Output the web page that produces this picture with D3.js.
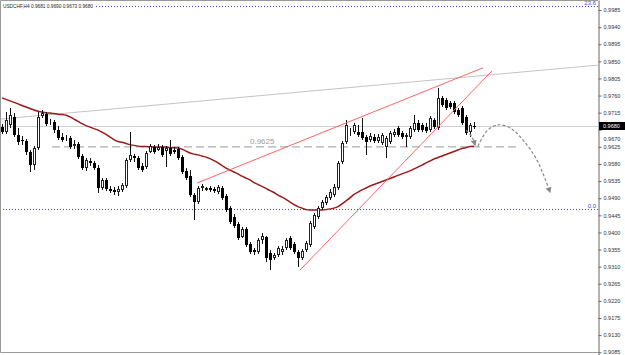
<!DOCTYPE html>
<html>
<head>
<meta charset="utf-8">
<script src="https://cdnjs.cloudflare.com/ajax/libs/d3/7.8.5/d3.min.js"></script>
<style>
  body { margin: 0; background: #fff; }
  svg { display: block; font-family: "Liberation Sans", Arial, sans-serif; }
</style>
</head>
<body>
<div class="chart"></div>
<script>
// USDCHF,H4 candles, prices in pips (price x 10000)
var openPips = [
  9677,9664,9683,9704,9656,9643,9640,9611,9577,9622,
  9706,9711,9688,9690,9669,9651,9646,9648,9627,9633,
  9601,9569,9588,9583,9569,9517,9538,9514,9511,9506,
  9511,9522,9590,9601,9596,9575,9572,9611,9625,9617,
  9625,9614,9622,9617,9619,9598,9561,9548,9498,9480,
  9517,9511,9517,9514,9506,9517,9496,9464,9440,9422,
  9388,9409,9369,9354,9348,9380,9388,9346,9333,9340,
  9348,9359,9385,9369,9348,9333,9354,9367,9414,9440,
  9464,9477,9490,9498,9517,9585,9638,9661,9664,9664,
  9664,9651,9643,9651,9640,9635,9625,9638,9656,9675,
  9661,9651,9651,9669,9688,9683,9677,9669,9696,9675,
  9754,9748,9740,9740,9722,9727,9704,9664,9681
];
var highPips = [
  9685,9717,9727,9714,9675,9654,9646,9617,9627,9717,
  9722,9717,9698,9696,9680,9661,9656,9654,9643,9638,
  9606,9596,9596,9588,9577,9543,9543,9522,9519,9522,
  9530,9596,9664,9606,9601,9583,9614,9633,9630,9633,
  9630,9627,9643,9625,9625,9604,9569,9564,9504,9522,
  9527,9519,9522,9519,9525,9522,9501,9469,9448,9427,
  9414,9414,9375,9359,9385,9398,9390,9354,9346,9364,
  9364,9385,9390,9375,9354,9356,9377,9430,9451,9469,
  9485,9498,9514,9527,9588,9640,9696,9675,9688,9683,
  9701,9656,9661,9659,9659,9661,9654,9667,9672,9680,
  9667,9661,9680,9709,9696,9688,9688,9706,9701,9780,
  9759,9754,9746,9746,9727,9733,9709,9688,9690
];
var lowPips = [
  9659,9659,9675,9651,9630,9630,9604,9559,9564,9617,
  9701,9680,9683,9661,9643,9638,9640,9619,9619,9593,
  9564,9561,9575,9564,9504,9511,9509,9504,9498,9496,
  9506,9517,9585,9585,9564,9559,9567,9609,9606,9614,
  9598,9572,9601,9606,9590,9554,9538,9493,9433,9475,
  9509,9509,9506,9504,9501,9485,9454,9422,9411,9380,
  9385,9361,9343,9340,9343,9369,9322,9301,9327,9335,
  9340,9354,9354,9343,9309,9327,9348,9361,9409,9435,
  9459,9472,9485,9493,9511,9580,9633,9654,9659,9651,
  9643,9604,9638,9635,9635,9630,9596,9633,9651,9651,
  9646,9625,9646,9664,9664,9664,9661,9664,9672,9669,
  9730,9722,9725,9711,9704,9683,9656,9651,9673
];
var closePips = [
  9664,9696,9709,9656,9638,9640,9611,9577,9622,9704,
  9714,9685,9690,9669,9648,9643,9648,9625,9633,9598,
  9569,9590,9583,9569,9517,9538,9514,9509,9506,9514,
  9525,9590,9604,9596,9569,9564,9609,9627,9611,9625,
  9604,9622,9606,9611,9596,9559,9543,9498,9480,9517,
  9522,9517,9511,9509,9519,9490,9459,9427,9417,9385,
  9409,9367,9348,9348,9380,9390,9333,9327,9340,9359,
  9356,9380,9359,9348,9333,9351,9372,9425,9446,9464,
  9480,9493,9506,9519,9583,9635,9683,9664,9683,9656,
  9648,9638,9654,9640,9651,9656,9648,9661,9664,9656,
  9651,9656,9675,9688,9669,9669,9667,9701,9677,9754,
  9735,9727,9730,9717,9709,9688,9661,9683,9680
];
// moving average, one value per candle
var maPips = [
  9754,9750,9746,9742,9738,9734,9730,9726,9722,9719,9717,9715,
  9714,9713,9711,9710,9708,9704,9698,9692,9686,9681,9677,9673,
  9669,9664,9658,9651,9644,9639,9637,9634,9631,9629,9627,9626,
  9626,9625,9625,9625,9625,9625,9623,9623,9622,9619,9614,9609,
  9606,9604,9601,9598,9594,9589,9583,9576,9569,9564,9559,9554,
  9548,9543,9538,9531,9526,9521,9516,9510,9505,9498,9493,9487,
  9480,9473,9468,9464,9460,9459,9459,9459,9459,9460,9462,9464,
  9468,9475,9483,9491,9500,9506,9512,9517,9522,9526,9530,9534,
  9538,9542,9546,9550,9554,9558,9562,9567,9572,9577,9583,9588,
  9593,9597,9601,9605,9609,9613,9617,9621,9623,9626,9627
];

var yTicks = [0.9985,0.9940,0.9895,0.9850,0.9805,0.9760,0.9715,0.9670,0.9625,0.9580,
  0.9535,0.9490,0.9445,0.9400,0.9355,0.9310,0.9265,0.9220,0.9175,0.9130,0.9085];

var headerText = "USDCHF,H4  0.9681 0.9690 0.9673 0.9680";
var lastPrice = 0.9680;

// fibo levels
var fibLevels = [0.9996, 0.9461];
var fibLabels = ["23.6", "0.0"];

// drawn objects: [bar index, price]
var grayTrend = [[-0.5, 0.9698], [149, 0.9840]];
var upperRed = [[48.75, 0.9530], [120.25, 0.9833]];
var lowerRed = [[74.5, 0.9301], [122.5, 0.9825]];
var levelLine = [[12.5, 0.9625], [128.75, 0.9625]];
var levelText = "0.9625";
var levelTextAt = [62, 0.9625];
var arrowDown = [[116, 0.9669], [117.5, 0.9651], [118.25, 0.9630]];
var arrowPath = [[119, 0.9627], [121.25, 0.9667], [124, 0.9683], [127, 0.9675],
  [130.25, 0.9643], [133.75, 0.9590], [137, 0.9506]];

var W = 625, H = 355, plotW = 598, plotH = 352;

var svg = d3.select(".chart").append("svg")
  .attr("width", W)
  .attr("height", H)

var x = d3.scaleLinear().domain([-0.5, 149]).range([0, plotW]);
var y = d3.scaleLinear().domain([0.90777, 1.00113]).range([H, 0]);

var candles = closePips.map(function(c, i) {
  return {i: i, o: openPips[i] / 1e4, h: highPips[i] / 1e4, l: lowPips[i] / 1e4, c: c / 1e4};
});

var line = d3.line()
  .x(function(d) { return x(d[0]); })
  .y(function(d) { return y(d[1]); })

var defs = svg.append("defs")
defs.append("marker")
  .attr("id", "head")
  .attr("viewBox", "0 0 10 10")
  .attr("refX", 8).attr("refY", 5)
  .attr("markerWidth", 6).attr("markerHeight", 6)
  .attr("markerUnits", "userSpaceOnUse")
  .attr("orient", "auto")
  .append("path")
  .attr("d", "M0,0L10,5L0,10z")
  .attr("fill", "#888")

var plot = svg.append("g")

// fibo dotted lines
plot.selectAll(".fib").data(fibLevels).join("line")
  .attr("class", "fib")
  .attr("x1", 0).attr("x2", plotW)
  .attr("y1", function(d) { return Math.round(y(d)) + 0.5; })
  .attr("y2", function(d) { return Math.round(y(d)) + 0.5; })
  .attr("stroke", "#4a4ac8")
  .attr("stroke-dasharray", "1,2")

plot.selectAll(".fibLabel").data(fibLevels).join("text")
  .attr("class", "fibLabel")
  .attr("x", plotW - 2)
  .attr("y", function(d) { return y(d) - 1; })
  .attr("text-anchor", "end")
  .attr("font-size", 6)
  .attr("fill", "#4a4ac8")
  .text(function(d, i) { return fibLabels[i]; })

// last price line
plot.append("line")
  .attr("x1", 0).attr("x2", plotW)
  .attr("y1", Math.round(y(lastPrice)) + 0.5)
  .attr("y2", Math.round(y(lastPrice)) + 0.5)
  .attr("stroke", "#d0d0d0")

// trend lines
plot.append("path").attr("d", line(grayTrend))
  .attr("stroke", "#c4c4c4").attr("fill", "none")
plot.append("path").attr("d", line(levelLine))
  .attr("stroke", "#9a9a9a").attr("fill", "none")
  .attr("stroke-dasharray", "8,4")
plot.append("text")
  .attr("x", x(levelTextAt[0]))
  .attr("y", y(levelTextAt[1]) - 3)
  .attr("font-size", 8)
  .attr("fill", "#9a9a9a")
  .text(levelText)

// moving average
plot.append("path")
  .datum(maPips)
  .attr("d", d3.line()
    .x(function(d, i) { return x(i); })
    .y(function(d) { return y(d / 1e4); })
    .curve(d3.curveMonotoneX))
  .attr("stroke", "#9b1b1b")
  .attr("stroke-width", 1.5)
  .attr("fill", "none")

// candles: wicks then bodies
var cg = plot.append("g")
cg.selectAll(".wick").data(candles).join("line")
  .attr("class", "wick")
  .attr("x1", function(d) { return Math.round(x(d.i)) + 0.5; })
  .attr("x2", function(d) { return Math.round(x(d.i)) + 0.5; })
  .attr("y1", function(d) { return Math.round(y(d.h)); })
  .attr("y2", function(d) { return Math.round(y(d.l)); })
  .attr("stroke", "#111")

cg.selectAll(".body").data(candles).join("rect")
  .attr("class", "body")
  .each(function(d) {
    var top = Math.round(y(Math.max(d.o, d.c)));
    var bot = Math.round(y(Math.min(d.o, d.c)));
    var cx = Math.round(x(d.i));
    var r = d3.select(this);
    if (d.c < d.o) {
      r.attr("x", cx - 1).attr("y", top).attr("width", 3).attr("height", Math.max(1, bot - top))
        .attr("fill", "#000")
    } else {
      r.attr("x", cx - 0.5).attr("y", top + 0.5).attr("width", 2).attr("height", Math.max(0, bot - top - 1))
        .attr("fill", "#fff").attr("stroke", "#222")
    }
  })

// red channel lines (over candles)
plot.append("path").attr("d", line(upperRed))
  .attr("stroke", "#ff6464").attr("fill", "none")
plot.append("path").attr("d", line(lowerRed))
  .attr("stroke", "#ff6464").attr("fill", "none")

// forecast arrows
plot.append("path").attr("d", line.curve(d3.curveCatmullRom)(arrowDown))
  .attr("stroke", "#888").attr("stroke-width", 1.2).attr("fill", "none")
  .attr("stroke-dasharray", "3,2")
  .attr("marker-end", "url(#head)")
plot.append("path").attr("d", line.curve(d3.curveCatmullRom)(arrowPath))
  .attr("stroke", "#888").attr("stroke-width", 1.2).attr("fill", "none")
  .attr("stroke-dasharray", "3,2")
  .attr("marker-end", "url(#head)")

// header at top-left
var hdr = svg.append("g")
var hdrText = hdr.append("text")
  .attr("x", 3).attr("y", 8)
  .attr("font-size", 6)
  .attr("textLength", 90)
  .attr("lengthAdjust", "spacingAndGlyphs")
  .attr("fill", "#222")
  .text(headerText)
var bb = hdrText.node().getBBox();
hdr.insert("rect", "text")
  .attr("x", bb.x - 1).attr("y", bb.y)
  .attr("width", bb.width + 2).attr("height", bb.height)
  .attr("fill", "#fff")

// frame
svg.append("path")
  .attr("d", "M" + plotW + ",0.5H0.5V" + (plotH + 0.5) + "H" + plotW)
  .attr("stroke", "#999").attr("fill", "none")

// price axis
var axis = svg.append("g")
  .attr("transform", "translate(" + (plotW + 0.5) + ",0)")
  .call(d3.axisRight(y).tickValues(yTicks).tickSize(3).tickSizeOuter(0).tickPadding(2)
    .tickFormat(d3.format(".4f")))
axis.select(".domain").attr("stroke", "#666")
axis.selectAll(".tick line").attr("stroke", "#666")
axis.selectAll(".tick text").attr("font-size", 5.5).attr("fill", "#333")
  .attr("font-family", "Liberation Sans, Arial, sans-serif")
// tick label under the price box sits a bit lower, as in the terminal
axis.selectAll(".tick text").filter(function(d) { return Math.abs(d - lastPrice) < 0.002; })
  .attr("dy", "1.9em")

// last price box
var py = y(lastPrice);
svg.append("rect")
  .attr("x", plotW + 1).attr("y", py - 4)
  .attr("width", W - plotW - 1).attr("height", 8)
  .attr("fill", "#000")
svg.append("text")
  .attr("x", plotW + 5).attr("y", py + 2)
  .attr("font-size", 5.5)
  .attr("fill", "#fff")
  .text(d3.format(".4f")(lastPrice))
</script>
</body>
</html>
